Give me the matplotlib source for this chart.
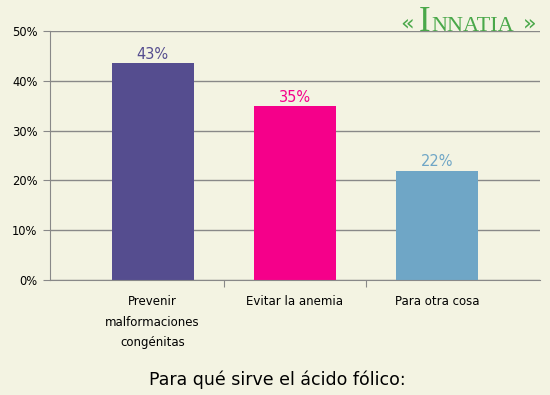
import matplotlib.pyplot as plt
from matplotlib.ticker import FuncFormatter

# datos
categorias = ["Prevenir\nmalformaciones\ncongénitas", "Evitar la anemia", "Para otra cosa"]
valores = [43.5, 34.9, 21.9]
etiquetas = ["43%", "35%", "22%"]
colores = ["#554d8f", "#f5008a", "#6fa6c6"]
titulo = "Para qué sirve el ácido fólico:"

bg = "#f3f3e2"
gris = "#888888"

fig = plt.figure(figsize=(5.5, 3.95), dpi=100, facecolor=bg)
ax = fig.add_axes([50 / 550, 1 - 280 / 395, 490 / 550, 249 / 395], facecolor=bg)

x = list(range(len(categorias)))
ax.bar(x, valores, width=0.575, color=colores, zorder=3)
for xi, v, lab, c in zip(x, valores, etiquetas, colores):
    ax.text(xi, v + 0.3, lab, ha="center", va="bottom", color=c, fontsize=10.5, zorder=4)

ax.set_ylim(0, 50)
ax.set_xlim(-0.72, 2.72)
ax.set_yticks(range(0, 51, 10))
ax.yaxis.set_major_formatter(FuncFormatter(lambda v, p: f"{int(v)}%"))
ax.grid(axis="y", color=gris, linewidth=1, zorder=0)

# ticks del eje x entre categorías, etiquetas centradas
ax.set_xticks([0.5, 1.5])
ax.set_xticklabels([])
ax.set_xticks(x, minor=True)
ax.set_xticklabels(categorias, minor=True, fontsize=8.5, linespacing=1.75)
ax.tick_params(axis="x", which="minor", length=0, pad=11)
ax.tick_params(axis="x", which="major", length=5, color=gris)
ax.tick_params(axis="y", length=5, color=gris, labelsize=8.3, pad=4)

for s in ["top", "right"]:
    ax.spines[s].set_visible(False)
for s in ["left", "bottom"]:
    ax.spines[s].set_color(gris)
    ax.spines[s].set_zorder(5)

fig.text(0.505, 1 - 380 / 395, titulo, ha="center", va="center", fontsize=12.5)

# logo
verde = "#4aa84a"
fig.text(419 / 550, 1 - 31 / 395, "I", ha="left", va="baseline", fontsize=25,
         color=verde, family="Liberation Serif")
fig.text(431 / 550, 1 - 31 / 395, "NNATIA", ha="left", va="baseline", fontsize=16,
         color=verde, family="Liberation Serif")
fig.text(407 / 550, 1 - 23 / 395, "«", ha="center", va="center", fontsize=16,
         color=verde)
fig.text(530 / 550, 1 - 23 / 395, "»", ha="center", va="center", fontsize=16,
         color=verde)

fig.savefig("out.png", dpi=100, facecolor=bg)
